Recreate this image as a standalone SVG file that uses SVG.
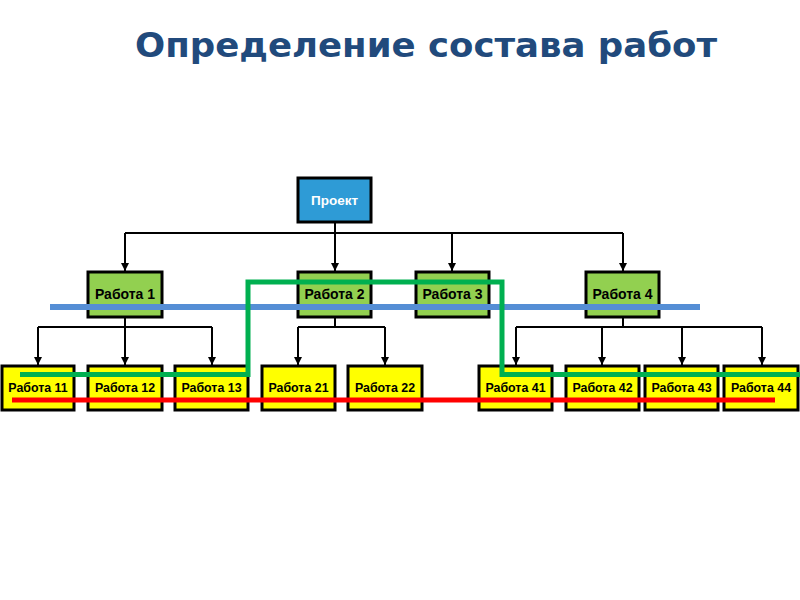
<svg xmlns="http://www.w3.org/2000/svg" width="800" height="600" viewBox="0 0 800 600">
<defs>
<marker id="arr" markerWidth="8" markerHeight="8" refX="8" refY="4" orient="auto" markerUnits="userSpaceOnUse">
<path d="M0,0 L8,4 L0,8 Z" fill="#000"/>
</marker>
<style>
.box{stroke:#000;stroke-width:3}
.p{fill:#2e9bd6}
.g{fill:#92d050}
.y{fill:#ffff00}
.t{font-family:"Liberation Sans",Arial,sans-serif;font-weight:bold;text-anchor:middle;fill:#000}
.t2{font-size:14px}
.t3{font-size:12.4px}
.c{fill:none;stroke:#000;stroke-width:2}
.ca{fill:none;stroke:#000;stroke-width:2;marker-end:url(#arr)}
</style>
</defs>
<rect width="800" height="600" fill="#fff"/>
<text x="426" y="57" font-family="'DejaVu Sans',Verdana,sans-serif" font-weight="bold" font-size="34" fill="#214a7c" text-anchor="middle" textLength="582" lengthAdjust="spacingAndGlyphs">Определение состава работ</text>
<g id="connectors">
<path class="c" d="M335,222 V233 M125,233 H623"/>
<path class="ca" d="M125,233 V271"/>
<path class="ca" d="M335,233 V271"/>
<path class="ca" d="M452,233 V271"/>
<path class="ca" d="M623,233 V271"/>
<path class="c" d="M125,317 V327 M38,327 H212"/>
<path class="ca" d="M38,327 V365"/>
<path class="ca" d="M125,327 V365"/>
<path class="ca" d="M212,327 V365"/>
<path class="c" d="M335,317 V327 M298,327 H385"/>
<path class="ca" d="M298,327 V365"/>
<path class="ca" d="M385,327 V365"/>
<path class="c" d="M623,317 V327 M516,327 H762"/>
<path class="ca" d="M516,327 V365"/>
<path class="ca" d="M602,327 V365"/>
<path class="ca" d="M682,327 V365"/>
<path class="ca" d="M762,327 V365"/>
</g>
<g id="proekt"><rect class="box p" x="298" y="178" width="73" height="44"/><text class="t" x="334.5" y="204.5" style="font-size:13.5px;fill:#fff">Проект</text></g>
<g id="r1"><rect class="box g" x="88" y="272" width="74" height="45"/><text class="t t2" x="125" y="298.5">Работа 1</text></g>
<g id="r2"><rect class="box g" x="298" y="272" width="73" height="45"/><text class="t t2" x="334.5" y="298.5">Работа 2</text></g>
<g id="r3"><rect class="box g" x="416" y="272" width="73" height="45"/><text class="t t2" x="452.5" y="298.5">Работа 3</text></g>
<g id="r4"><rect class="box g" x="586" y="272" width="73" height="45"/><text class="t t2" x="622.5" y="298.5">Работа 4</text></g>
<g id="r11"><rect class="box y" x="2" y="366" width="72" height="44"/><text class="t t3" x="38" y="392">Работа 11</text></g>
<g id="r12"><rect class="box y" x="88" y="366" width="74" height="44"/><text class="t t3" x="125" y="392">Работа 12</text></g>
<g id="r13"><rect class="box y" x="175" y="366" width="73" height="44"/><text class="t t3" x="211.5" y="392">Работа 13</text></g>
<g id="r21"><rect class="box y" x="262" y="366" width="73" height="44"/><text class="t t3" x="298.5" y="392">Работа 21</text></g>
<g id="r22"><rect class="box y" x="348" y="366" width="74" height="44"/><text class="t t3" x="385" y="392">Работа 22</text></g>
<g id="r41"><rect class="box y" x="479" y="366" width="73" height="44"/><text class="t t3" x="515.5" y="392">Работа 41</text></g>
<g id="r42"><rect class="box y" x="566" y="366" width="73" height="44"/><text class="t t3" x="602.5" y="392">Работа 42</text></g>
<g id="r43"><rect class="box y" x="645" y="366" width="73" height="44"/><text class="t t3" x="681.5" y="392">Работа 43</text></g>
<g id="r44"><rect class="box y" x="724" y="366" width="74" height="44"/><text class="t t3" x="761" y="392">Работа 44</text></g>
<g id="lines">
<path d="M50,307 H700" stroke="#558ed5" stroke-width="6" fill="none"/>
<path d="M20,374.5 H248 V282 H502 V374.5 H800" stroke="#00b050" stroke-width="5" fill="none"/>
<path d="M12,400 H775" stroke="#ff0000" stroke-width="5" fill="none"/>
</g>
</svg>
